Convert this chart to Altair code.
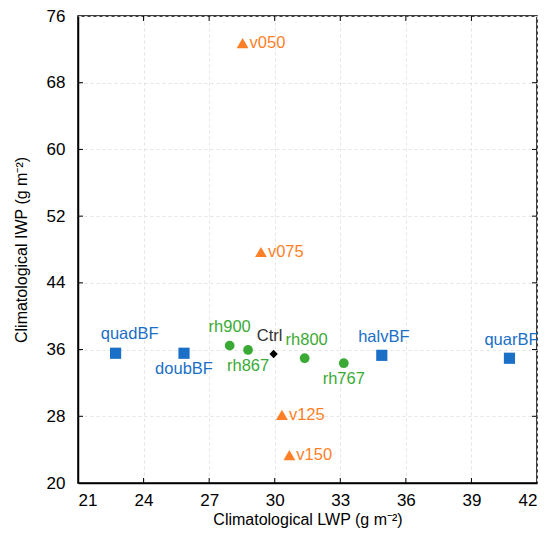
import altair as alt
import pandas as pd

names = ["v050", "v075", "v125", "v150", "Ctrl", "rh900", "rh867", "rh800", "rh767",
         "quadBF", "doubBF", "halvBF", "quarBF"]
lwp = [28.53, 29.37, 30.33, 30.67, 29.95, 27.94, 28.78, 31.37, 33.16, 22.72, 25.85, 34.90, 40.74]
iwp = [72.76, 47.70, 28.16, 23.33, 35.47, 36.47, 35.95, 34.96, 34.36, 35.56, 35.56, 35.31, 34.96]
group = ["v", "v", "v", "v", "ctrl", "rh", "rh", "rh", "rh", "bf", "bf", "bf", "bf"]

x_ticks = [21, 24, 27, 30, 33, 36, 39, 42]
y_ticks = [20, 28, 36, 44, 52, 60, 68, 76]

df = pd.DataFrame({"name": names, "lwp": lwp, "iwp": iwp, "group": group})

W, H = 459, 467
FONT = "Liberation Sans"

xs = alt.Scale(domain=[21, 42], nice=False, zero=False)
ys = alt.Scale(domain=[20, 76], nice=False, zero=False)

colors = {"v": "#ff7f27", "ctrl": "#000000", "rh": "#3aaa35", "bf": "#1a6fc6"}
shapes = {"v": "triangle-up", "ctrl": "diamond", "rh": "circle", "bf": "square"}
sizes = {"v": 140, "ctrl": 70, "rh": 95, "bf": 125}

base = alt.Chart(df)

x_enc = alt.X("lwp:Q", scale=xs,
              axis=alt.Axis(values=x_ticks, title="Climatological LWP (g m⁻²)",
                            grid=True, gridDash=[3, 3], gridColor="#e4e4e4",
                            ticks=False, labelPadding=9, labelFontSize=17,
                            titleFontSize=16, titlePadding=3, labelFont=FONT, titleFont=FONT,
                            domainColor="black", labelColor="black", titleColor="black",
                            titleFontWeight="normal"))
y_enc = alt.Y("iwp:Q", scale=ys,
              axis=alt.Axis(values=y_ticks, title="Climatological IWP (g m⁻²)",
                            grid=True, gridDash=[3, 3], gridColor="#e4e4e4",
                            ticks=False, labelPadding=13, labelFontSize=17,
                            titleFontSize=16, titlePadding=17, labelFont=FONT, titleFont=FONT,
                            domainColor="black", labelColor="black", titleColor="black",
                            titleFontWeight="normal"))

layers = []
for g in ["v", "ctrl", "rh", "bf"]:
    layers.append(
        base.transform_filter(alt.datum.group == g)
        .mark_point(shape=shapes[g], filled=True, opacity=1, size=sizes[g], color=colors[g])
        .encode(x=x_enc, y=y_enc)
    )

label_groups = [
    (["v050", "v075", "v125", "v150"], dict(align="left", dx=7, dy=0)),
    (["rh900"], dict(align="center", dx=0, dy=-19)),
    (["rh800", "halvBF", "quarBF"], dict(align="center", dx=2, dy=-18)),
    (["Ctrl"], dict(align="center", dx=-4, dy=-18)),
    (["quadBF"], dict(align="center", dx=14, dy=-19)),
    (["rh867", "rh767", "doubBF"], dict(align="center", dx=0, dy=16)),
]

for lst, kw in label_groups:
    layers.append(
        base.transform_filter(alt.FieldOneOfPredicate(field="name", oneOf=lst))
        .mark_text(fontSize=16.5, font=FONT, baseline="middle", **kw)
        .encode(
            x=alt.X("lwp:Q", scale=xs),
            y=alt.Y("iwp:Q", scale=ys),
            text="name:N",
            color=alt.Color("group:N",
                            scale=alt.Scale(domain=["v", "ctrl", "rh", "bf"],
                                            range=["#ff7f27", "#333333", "#3aaa35", "#1a6fc6"]),
                            legend=None),
        )
    )

# inward tick marks on all four sides
xt = pd.DataFrame({"t": x_ticks[1:-1]})
yt = pd.DataFrame({"t": y_ticks[1:-1]})
TL = 5
layers.append(alt.Chart(xt).mark_rule(color="black", strokeWidth=1)
              .encode(x=alt.X("t:Q", scale=xs), y=alt.value(H), y2=alt.value(H - TL)))
layers.append(alt.Chart(xt).mark_rule(color="black", strokeWidth=1)
              .encode(x=alt.X("t:Q", scale=xs), y=alt.value(0), y2=alt.value(TL)))
layers.append(alt.Chart(yt).mark_rule(color="black", strokeWidth=1)
              .encode(y=alt.Y("t:Q", scale=ys), x=alt.value(0), x2=alt.value(TL)))
layers.append(alt.Chart(yt).mark_rule(color="black", strokeWidth=1)
              .encode(y=alt.Y("t:Q", scale=ys), x=alt.value(W), x2=alt.value(W - TL)))

chart = alt.layer(*layers).properties(
    width=W, height=H,
    autosize=alt.AutoSizeParams(type="none"),
    padding={"left": 70, "top": 8, "right": 8, "bottom": 45},
).configure_view(stroke="black", strokeWidth=1.5).configure_axis(domainWidth=1.5)

chart.save("out.html", embed_options={"renderer": "svg", "actions": False})
